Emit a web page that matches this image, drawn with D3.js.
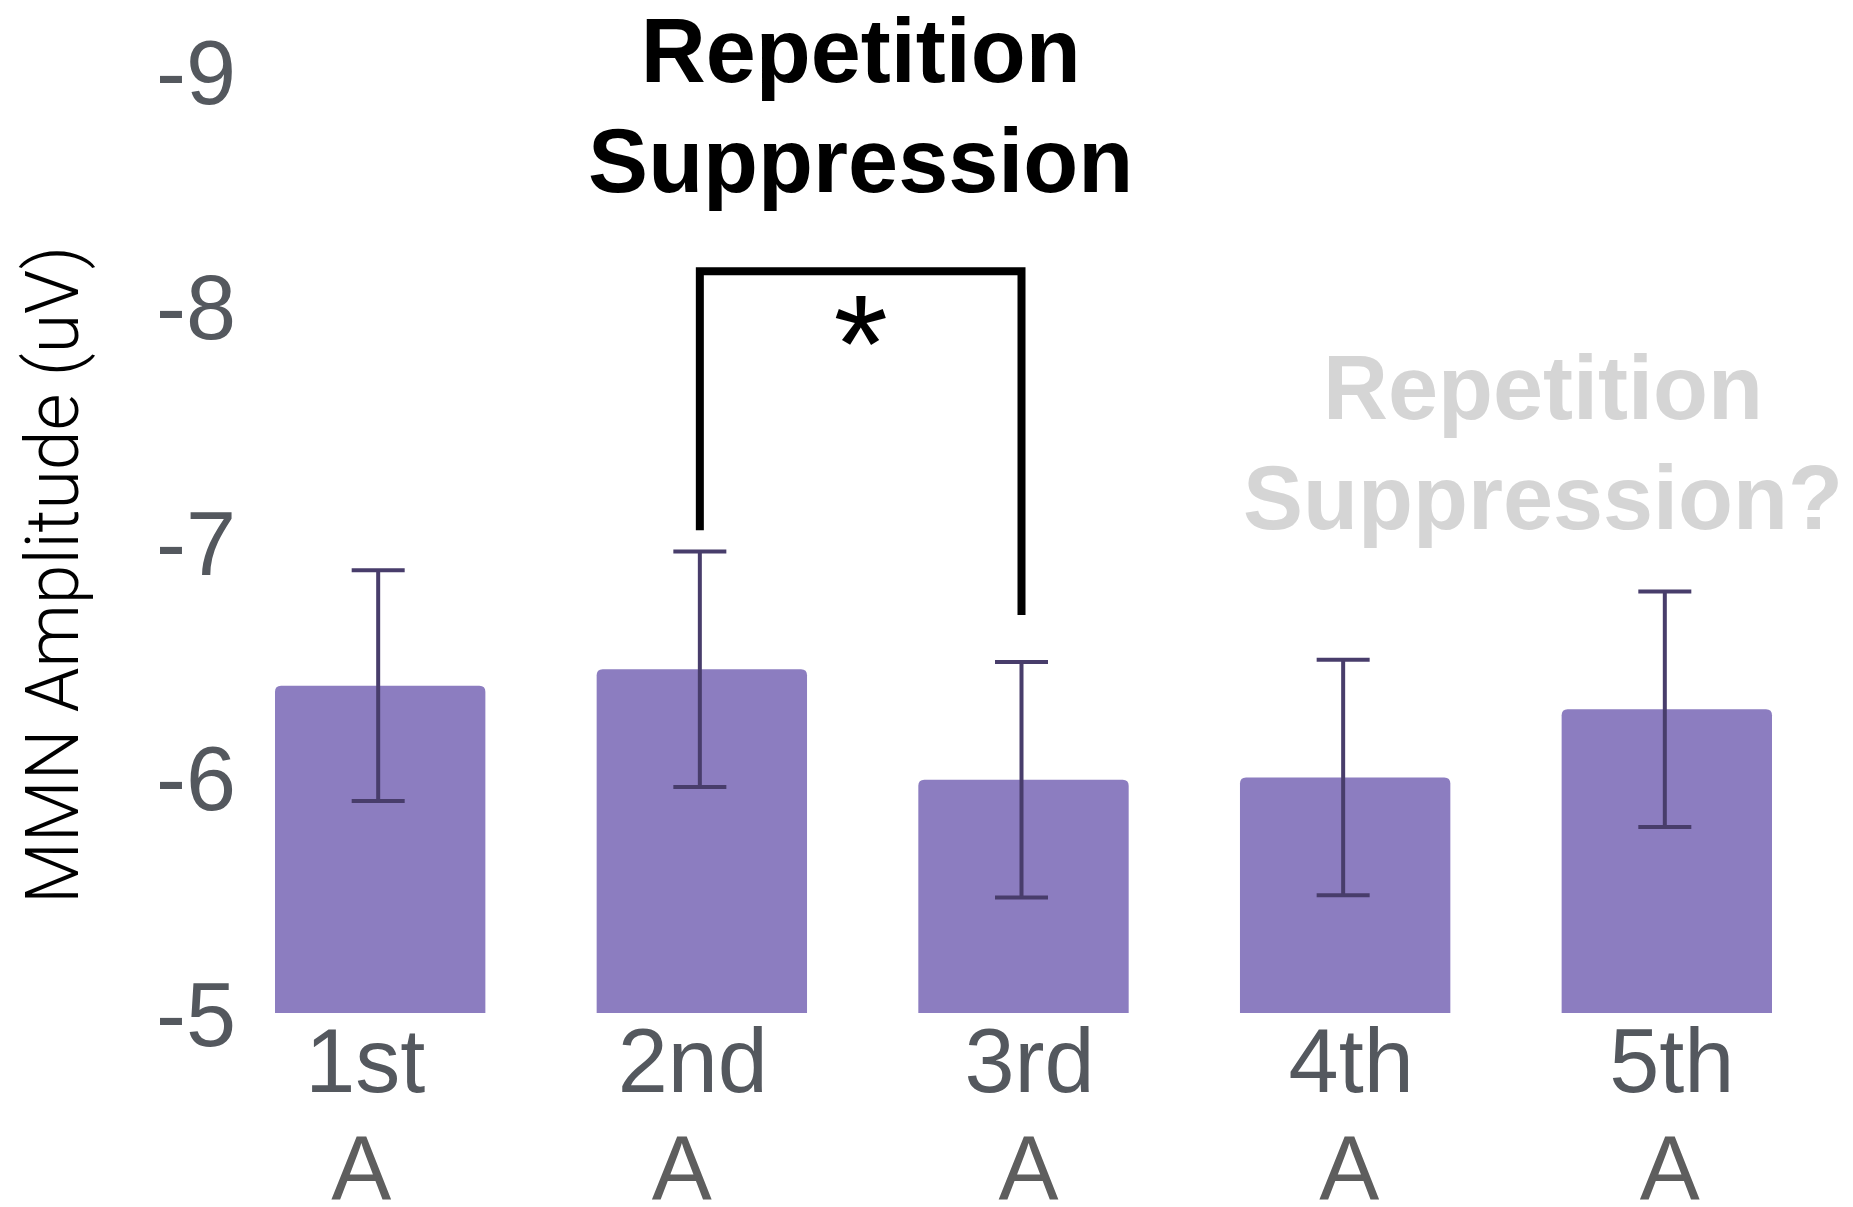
<!DOCTYPE html>
<html>
<head>
<meta charset="utf-8">
<script src="https://cdn.jsdelivr.net/npm/d3@7"></script>
<style>
  html, body { margin: 0; padding: 0; background: #ffffff; }
  svg { display: block; }
</style>
</head>
<body>
<div id="chart"></div>
<script>
// Mean MMN amplitude per repetition position, with error bars (uV)
const categories = ["1st", "2nd", "3rd", "4th", "5th"];
const subLabels = ["A", "A", "A", "A", "A"];
const means = [-6.39, -6.46, -5.99, -6.00, -6.29];
const errors = [0.49, 0.50, 0.50, 0.50, 0.50];
const yTicks = [-5, -6, -7, -8, -9];

// Significance bracket between the 2nd and 3rd presentation
const bracketPair = ["2nd", "3rd"];
const bracketTop = -8.15;
const bracketEnds = [-7.05, -6.69];
const bracketMark = "*";

const titleLines = ["Repetition", "Suppression"];
const questionLines = ["Repetition", "Suppression?"];
const yAxisTitle = "MMN Amplitude (uV)";

const W = 1853, H = 1207;
const svg = d3.select("#chart").append("svg")
  .attr("width", W).attr("height", H)
  .attr("viewBox", `0 0 ${W} ${H}`);

const x = d3.scaleBand()
  .domain(categories)
  .range([275, 1772])
  .paddingInner(0.346)
  .paddingOuter(0);

const y = d3.scaleLinear()
  .domain([-5, -9])
  .range([1013, 71]);

const barColor = "#8c7dc0";
const errColor = "#483d6b";
const tickColor = "#54585e";
const sansFont = "'Liberation Sans', Arial, Helvetica, sans-serif";

// Hand-placed horizontal nudges for the category label rows
const ordinalShift = [-15, -9, 6, 6, 5];
const letterShift = [-19, -20, 5, 4, 3];

// Bars with rounded top corners, square base
const r = 6;
function barPath(x0, w, yTop, yBase) {
  return `M${x0},${yBase}V${yTop + r}Q${x0},${yTop} ${x0 + r},${yTop}` +
         `H${x0 + w - r}Q${x0 + w},${yTop} ${x0 + w},${yTop + r}V${yBase}Z`;
}

svg.append("g").selectAll("path")
  .data(categories)
  .join("path")
  .attr("d", (c, i) => barPath(x(c), x.bandwidth(), y(means[i]), y(-5)))
  .attr("fill", barColor);

// Error bars
const errX = c => x(c) + x.bandwidth() / 2 - 2;
const capHalf = 26.5;
const eg = svg.append("g")
  .attr("stroke", errColor)
  .attr("stroke-width", 4)
  .attr("fill", "none");
categories.forEach((c, i) => {
  const cx = errX(c);
  const hi = y(means[i] - errors[i]);
  const lo = y(means[i] + errors[i]);
  eg.append("line").attr("x1", cx).attr("x2", cx).attr("y1", hi).attr("y2", lo);
  eg.append("line").attr("x1", cx - capHalf).attr("x2", cx + capHalf).attr("y1", hi).attr("y2", hi);
  eg.append("line").attr("x1", cx - capHalf).attr("x2", cx + capHalf).attr("y1", lo).attr("y2", lo);
});

// Y axis: labels only, no line or tick marks
const yAxis = d3.axisLeft(y)
  .tickValues(yTicks)
  .tickFormat(d => d3.format("d")(d).replace("−", "-"))
  .tickSize(0)
  .tickPadding(0);
const yg = svg.append("g")
  .attr("transform", "translate(236,0)")
  .call(yAxis);
yg.select(".domain").remove();
yg.selectAll("text")
  .attr("fill", tickColor)
  .attr("font-family", sansFont)
  .attr("font-size", 90)
  .attr("dy", "0.36em")
  .attr("x", 0);

// X axis: two-line category labels
const xAxis = d3.axisBottom(x).tickSize(0).tickPadding(0).tickFormat(() => "");
const xg = svg.append("g")
  .attr("transform", `translate(0,${y(-5)})`)
  .call(xAxis);
xg.select(".domain").remove();
xg.selectAll(".tick").each(function(c, i) {
  const t = d3.select(this);
  t.select("text").remove();
  t.append("text")
    .attr("text-anchor", "middle")
    .attr("x", ordinalShift[i])
    .attr("y", 79)
    .attr("fill", tickColor)
    .attr("font-family", sansFont)
    .attr("font-size", 90)
    .text(c);
  t.append("text")
    .attr("text-anchor", "middle")
    .attr("x", letterShift[i])
    .attr("y", 186)
    .attr("fill", "#5e5e5e")
    .attr("font-family", sansFont)
    .attr("font-size", 90)
    .text(subLabels[i]);
});

// Y axis title
svg.append("text")
  .attr("transform", `translate(78,575) rotate(-90)`)
  .attr("text-anchor", "middle")
  .attr("font-family", "Roboto, 'Open Sans', sans-serif")
  .attr("font-weight", 300)
  .attr("font-size", 74)
  .attr("textLength", 658)
  .attr("lengthAdjust", "spacingAndGlyphs")
  .attr("fill", "#000000")
  .text(yAxisTitle);

// Significance bracket
const bx0 = errX(bracketPair[0]);
const bx1 = errX(bracketPair[1]);
svg.append("path")
  .attr("d", `M${bx0},${y(bracketEnds[0])}V${y(bracketTop)}H${bx1}V${y(bracketEnds[1])}`)
  .attr("fill", "none")
  .attr("stroke", "#000000")
  .attr("stroke-width", 8)
  .attr("stroke-linejoin", "miter");

const midX = (bx0 + bx1) / 2;
svg.append("text")
  .attr("x", midX)
  .attr("y", 392)
  .attr("text-anchor", "middle")
  .attr("font-family", "'Liberation Sans', Arial, sans-serif")
  .attr("font-size", 140)
  .attr("fill", "#000000")
  .text(bracketMark);

// Title above the bracket
const title = svg.append("text")
  .attr("text-anchor", "middle")
  .attr("font-family", sansFont)
  .attr("font-weight", "bold")
  .attr("font-size", 90)
  .attr("fill", "#000000");
titleLines.forEach((s, i) => {
  title.append("tspan").attr("x", midX).attr("y", 82 + i * 110).text(s);
});

// Faded question annotation on the right
const q = svg.append("text")
  .attr("text-anchor", "middle")
  .attr("font-family", sansFont)
  .attr("font-weight", "bold")
  .attr("font-size", 90)
  .attr("fill", "#d5d5d5");
questionLines.forEach((s, i) => {
  q.append("tspan").attr("x", 1543).attr("y", 419 + i * 110).text(s);
});
</script>
</body>
</html>
